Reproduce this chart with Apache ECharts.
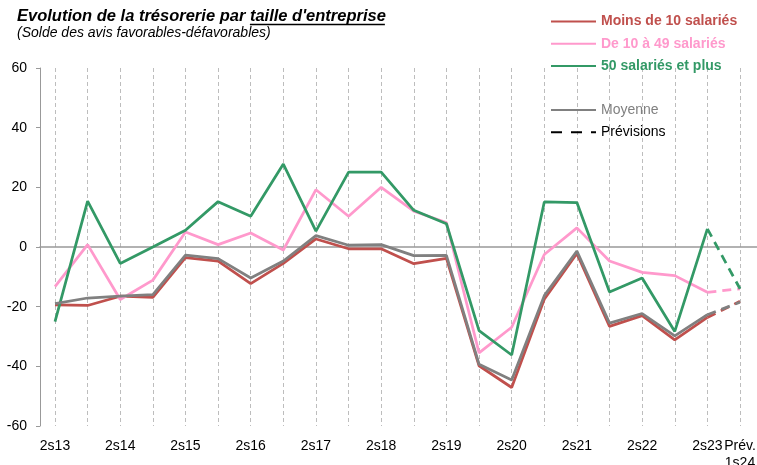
<!DOCTYPE html>
<html>
<head>
<meta charset="utf-8">
<script src="https://cdn.jsdelivr.net/npm/echarts@6/dist/echarts.min.js"></script>
<style>
html,body{margin:0;padding:0;background:#fff;}
#chart{width:757px;height:465px;}
</style>
</head>
<body>
<div id="chart"></div>
<script>
// ---- Data ----
const categories = ['2s13','1s14','2s14','1s15','2s15','1s16','2s16','1s17','2s17','1s18','2s18','1s19','2s19','1s20','2s20','1s21','2s21','1s22','2s22','1s23','2s23','Prév.\n1s24'];
const moins10  = [-19.4,-19.6,-16.5,-16.9,-3.6,-4.7,-12.3,-5.5,2.7,-0.6,-0.6,-5.6,-3.8,-39.8,-47.1,-17.5,-2.2,-26.6,-23.0,-31.1,-23.6,-18.2];
const de10a49  = [-13.3,0.8,-17.6,-11.1,5.0,0.8,4.7,-1.0,19.2,10.3,20.0,12.0,8.2,-35.5,-26.9,-2.5,6.4,-4.7,-8.5,-9.6,-15.2,-14.0];
const plus50   = [-25.0,15.4,-5.5,0.0,5.6,15.2,10.3,27.8,5.3,25.1,25.1,12.3,7.8,-28.0,-36.2,15.1,14.9,-15.1,-10.4,-28.3,6.1,-14.0];
const moyenne  = [-19.0,-17.1,-16.5,-16.0,-2.7,-3.9,-10.4,-4.7,3.8,0.6,0.8,-2.9,-2.8,-39.3,-44.6,-16.3,-1.4,-25.5,-22.3,-29.8,-22.7,-18.5];
const forecastFrom = 20; // last observed index; forecast segment starts here
const seriesNames = ['Moins de 10 salariés','De 10 à 49 salariés','50 salariés et plus','Moyenne'];
const yTicks = {min:-60, max:60, interval:20};

// ---- Styles ----
const FONT = '"Liberation Sans", Arial, sans-serif';
const colors = ['#C0504D','#FF99CC','#339966','#808080'];
const values = [moins10, de10a49, plus50, moyenne];

const solid = v => v.map((x,i)=> i<=forecastFrom ? x : null);
const dashed = v => v.map((x,i)=> i>=forecastFrom ? x : null);

const series = [];
values.forEach((v,k)=>{
  series.push({name: seriesNames[k], type:'line', data: solid(v), symbol:'none', xAxisIndex:0, yAxisIndex:0,
    lineStyle:{color:colors[k], width:2.75}, itemStyle:{color:colors[k]}, z: 3+k});
});
values.forEach((v,k)=>{
  series.push({name: seriesNames[k]+' (prév.)', type:'line', data: dashed(v), symbol:'none', xAxisIndex:0, yAxisIndex:0,
    lineStyle:{color:colors[k], width:2.75, type:[9,6]}, itemStyle:{color:colors[k]}, z: 3+k});
});
series.push({name:'Prévisions', type:'line', data:[], symbol:'none', xAxisIndex:0, yAxisIndex:0,
  lineStyle:{color:'#000', width:3, type:[11,9]}, itemStyle:{color:'#000'}});

// title measurement
const ctx = document.createElement('canvas').getContext('2d');
const titleFont = 'italic bold 16.5px "Liberation Sans"';
ctx.font = titleFont;
const t1 = 'Evolution de la trésorerie par ';
const t2 = "taille d'entreprise";
const w1 = ctx.measureText(t1).width;
const w2 = ctx.measureText(t2).width;
const TX = 17;

const legendCommon = {orient:'vertical', left:550, itemWidth:45, itemHeight:14, itemGap:8.3, padding:0, selectedMode:false,
  itemStyle:{opacity:0, borderWidth:0}};

const chart = echarts.init(document.getElementById('chart'), null, {renderer:'canvas'});
chart.setOption({
  animation:false,
  backgroundColor:'#fff',
  textStyle:{fontFamily:FONT},
  graphic:[
    {type:'text', left:TX, top:8, style:{text:t1, font:titleFont, fill:'#000'}},
    {type:'text', left:TX+w1, top:8, style:{text:t2, font:titleFont, fill:'#000'}},
    {type:'line', shape:{x1:TX+w1, y1:24.5, x2:TX+w1+w2-1, y2:24.5}, style:{stroke:'#000', lineWidth:1.3}},
    {type:'text', left:TX, top:26.5, style:{text:'(Solde des avis favorables-défavorables)', font:'italic 14px "Liberation Sans"', fill:'#000'}}
  ],
  legend:[
    Object.assign({}, legendCommon, {top:14.5,
     textStyle:{fontSize:14, fontWeight:'bold', fontFamily:FONT},
     data:[
       {name:seriesNames[0], textStyle:{color:colors[0]}},
       {name:seriesNames[1], textStyle:{color:colors[1]}},
       {name:seriesNames[2], textStyle:{color:colors[2]}}
     ]}),
    Object.assign({}, legendCommon, {top:103,
     textStyle:{fontSize:14, fontWeight:'normal', fontFamily:FONT},
     data:[
       {name:seriesNames[3], textStyle:{color:'#808080'}},
       {name:'Prévisions', textStyle:{color:'#000'}}
     ]})
  ],
  grid:[
    {left:55, right:17, top:68, bottom:39, containLabel:false, outerBoundsMode:'none'},
    {left:40, right:0, top:68, bottom:39, containLabel:false, outerBoundsMode:'none'}
  ],
  xAxis:[
    {type:'category', gridIndex:0, data:categories, boundaryGap:false,
     axisLine:{show:false, onZero:false}, axisTick:{show:false},
     axisLabel:{interval:(i)=> i%2===0 || i===categories.length-1, color:'#000', fontSize:14, fontFamily:FONT, margin:12, lineHeight:17},
     splitLine:{show:true, interval:0, lineStyle:{color:'#BDBDBD', type:[4,3], width:1}}},
    {type:'value', gridIndex:1, min:0, max:1,
     axisLine:{show:true, onZero:true, lineStyle:{color:'#999', width:1.5}},
     axisTick:{show:false}, axisLabel:{show:false}, splitLine:{show:false}}
  ],
  yAxis:[
    {type:'value', gridIndex:0, min:yTicks.min, max:yTicks.max, interval:yTicks.interval, offset:15,
     axisLine:{show:true, lineStyle:{color:'#999', width:1}},
     axisTick:{show:true, length:4, lineStyle:{color:'#999'}},
     axisLabel:{color:'#000', fontSize:14, fontFamily:FONT, margin:13},
     splitLine:{show:false}},
    {type:'value', gridIndex:1, min:yTicks.min, max:yTicks.max, show:false}
  ],
  series: series
});
</script>
</body>
</html>
